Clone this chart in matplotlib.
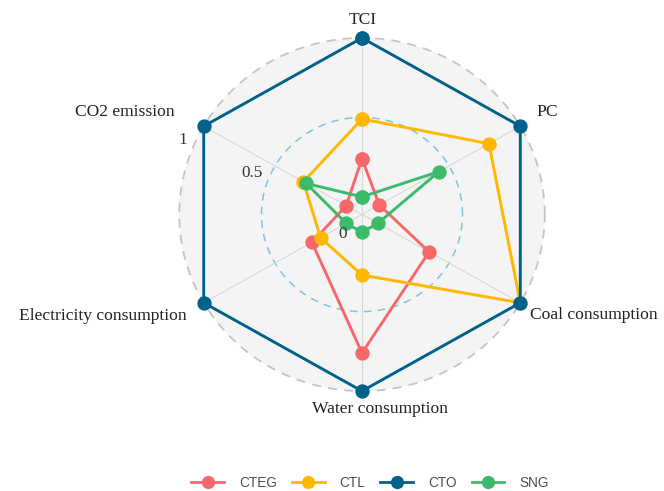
import numpy as np
import matplotlib
matplotlib.use("Agg")
import matplotlib.pyplot as plt
from matplotlib.lines import Line2D
from matplotlib.patches import Circle

# данные
axes_names = ["TCI", "PC", "Coal consumption", "Water consumption",
              "Electricity consumption", "CO2 emission"]
series = ["CTEG", "CTL", "CTO", "SNG"]
cteg = [0.24, 0.01, 0.36, 0.76, 0.24, 0.0]
ctl = [0.49, 0.78, 1.0, 0.27, 0.18, 0.30]
cto = [1.0, 1.0, 1.0, 1.0, 1.0, 1.0]
sng = [0.0, 0.43, 0.0, 0.0, 0.0, 0.28]
grid_labels = ["0", "0.5", "1"]
grid_values = [0.0, 0.5, 1.0]

colors = ["#F8676A", "#FFB700", "#00618A", "#3CBA6A"]

W, H = 664, 491
cx, cy = 362, 214.5      # центр в пикселях
sx, sy = 164.5, 158.9    # пикселей на единицу
offset = 1 / 9           # смещение центра как в ggradar

fig = plt.figure(figsize=(W / 100, H / 100), dpi=100)
ax = fig.add_axes([0, 0, 1, 1])
ax.set_xlim(-cx / sx, (W - cx) / sx)
ax.set_ylim(-(H - cy) / sy, cy / sy)
ax.axis("off")


def px(x, y):
    # пиксели -> координаты данных
    return (x - cx) / sx, (cy - y) / sy


angles = np.deg2rad(90 - 60 * np.arange(len(axes_names)))
rmax = grid_values[2] + offset
rmid = grid_values[1] + offset

# фон и сетка
ax.add_patch(Circle((0, 0), rmax, facecolor="#F4F4F4", edgecolor="none", zorder=0))
t = np.linspace(0, 2 * np.pi, 300)
ax.plot(rmax * np.cos(t), rmax * np.sin(t), ls=(0, (5, 4)), color="#C4C4C4", lw=1.3, zorder=1)
ax.plot(rmid * np.cos(t), rmid * np.sin(t), ls=(0, (5, 4)), color="#7EC4E0", lw=1.1, zorder=1)
for a in angles:
    ax.plot([0, rmax * np.cos(a)], [0, rmax * np.sin(a)], color="#D8D8D8", lw=0.8, zorder=1)

# серии
for name, vals, c in zip(series, [cteg, ctl, cto, sng], colors):
    r = np.array(vals) + offset
    x = r * np.cos(angles)
    y = r * np.sin(angles)
    x = np.append(x, x[0])
    y = np.append(y, y[0])
    ax.plot(x, y, color=c, lw=2.1, marker="o", markersize=9.3, zorder=3)

# подписи осей
serif = "Liberation Serif"
label_pos = [((362.7, 20), "center"), ((536, 112), "left"), ((530, 315), "left"),
             ((380, 409), "center"), ((187, 316), "right"), ((175, 112), "right")]
for name, ((x, y), ha) in zip(axes_names, label_pos):
    ax.text(*px(x, y), name, family=serif, fontsize=12.6, color="#222222",
            ha=ha, va="center")

# подписи сетки
grid_pos = [(342.7, 234.3), (252.5, 172.7), (183, 140)]
for lab, (x, y) in zip(grid_labels, grid_pos):
    ax.text(*px(x, y), lab, family=serif, fontsize=12.4, color="#333333",
            ha="center", va="center")

# легенда
handles = [Line2D([], [], color=c, lw=2, marker="o", markersize=8.5) for c in colors]
leg = fig.legend(handles, series, loc="center", bbox_to_anchor=(370 / W, 1 - 483 / H),
                 ncol=4, frameon=False, handlelength=2.4, handletextpad=1.1,
                 columnspacing=1.1, prop={"family": "Liberation Sans", "size": 9.8})
for txt in leg.get_texts():
    txt.set_color("#4D4D4D")

fig.savefig("out.png", dpi=100)
